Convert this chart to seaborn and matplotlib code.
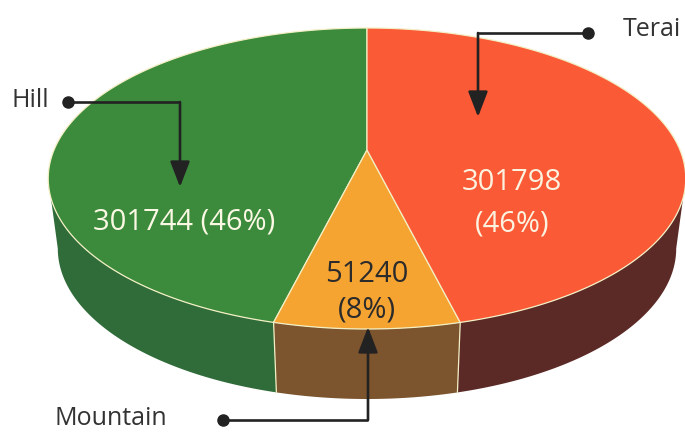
import numpy as np
import seaborn as sns
import matplotlib.pyplot as plt
from matplotlib.patches import Polygon

# data
regions = ["Hill", "Mountain", "Terai"]
counts = [301744, 51240, 301798]
top_colors = ["#3c8b3d", "#f6a431", "#fb5a37"]
side_colors = ["#2f6c39", "#7c552f", "#5b2a26"]
value_colors = ["#fbf8e4", "#2b2b2b", "#fbf3e0"]

sns.set_theme(style="white")
plt.rcParams["font.family"] = ["Open Sans", "DejaVu Sans"]

fig = plt.figure(figsize=(6.85, 4.32), dpi=100)
ax = fig.add_axes([0, 0, 1, 1])
ax.set_xlim(0, 685)
ax.set_ylim(432, 0)
ax.axis("off")

# perspective disc (pixel space)
x0, y0 = 367, 150
A, B, k = 313, 145.1, -0.1894
depth = 70
shrink = 0.97
edge = "#f3efc4"


def proj(t, dz=0.0, s=1.0):
    t = np.radians(t)
    u = np.cos(t)
    v = -np.sin(t)
    w = 1 + k * v
    return x0 + s * A * u / w, y0 + B * v / w + dz


total = sum(counts)
fracs = np.array(counts) / total
bounds = 90 + 360 * np.concatenate([[0], np.cumsum(fracs)])

# silhouette angles (leftmost / rightmost points of top ellipse)
grid = np.linspace(90, 450, 7201)
gx, _ = proj(grid)
t_left = grid[np.argmin(gx)]
t_right = grid[np.argmax(gx)]

# side faces
for i in range(len(counts)):
    a1 = max(bounds[i], t_left)
    a2 = min(bounds[i + 1], t_right)
    if a2 <= a1:
        continue
    ts = np.linspace(a1, a2, 200)
    tx, ty = proj(ts)
    bx, by = proj(ts, depth, shrink)
    pts = np.column_stack([np.concatenate([tx, bx[::-1]]),
                           np.concatenate([ty, by[::-1]])])
    ax.add_patch(Polygon(pts, closed=True, facecolor=side_colors[i],
                         edgecolor="none", zorder=1))

# light seams on the side between wedges
for b in bounds[1:-1]:
    if t_left < b < t_right:
        xa, ya = proj(b)
        xb, yb = proj(b, depth, shrink)
        ax.plot([xa, xb], [ya, yb], color=edge, lw=0.9, zorder=2)

# top faces
for i in range(len(counts)):
    ts = np.linspace(bounds[i], bounds[i + 1], 300)
    tx, ty = proj(ts)
    pts = np.column_stack([np.concatenate([[x0], tx]),
                           np.concatenate([[y0], ty])])
    ax.add_patch(Polygon(pts, closed=True, facecolor=top_colors[i],
                         edgecolor=edge, lw=0.9, zorder=3))

# value labels
pcts = [int(round(f * 100)) for f in fracs]
val_lines = [
    [(f"{counts[0]} ({pcts[0]}%)", 184, 230)],
    [(f"{counts[1]}", 367, 282), (f"({pcts[1]}%)", 367, 318)],
    [(f"{counts[2]}", 512, 190), (f"({pcts[2]}%)", 512, 231)],
]
for i, lines in enumerate(val_lines):
    for txt, x, y in lines:
        ax.text(x, y, txt, ha="center", va="baseline", fontsize=21,
                color=value_colors[i], zorder=5)

# callouts: name label, dot, elbow, arrow tip
callouts = [
    ("Hill", (12, 107), (68, 102), (180, 102), (180, 187)),
    ("Mountain", (55, 425), (223, 420), (368, 420), (368, 327)),
    ("Terai", (623, 36), (588, 33), (478, 33), (478, 117)),
]
lc = "#222222"
for name, tpos, dot, corner, tip in callouts:
    ax.text(tpos[0], tpos[1], name, ha="left", va="baseline", fontsize=18,
            color="#333333", zorder=6)
    ax.plot([dot[0], corner[0]], [dot[1], corner[1]], color=lc, lw=1.9,
            solid_capstyle="butt", zorder=6)
    ax.plot(dot[0], dot[1], "o", color=lc, ms=8, zorder=7)
    ax.annotate("", xy=tip, xytext=corner,
                arrowprops=dict(arrowstyle="-|>,head_length=1.3,head_width=0.5",
                                color=lc, lw=1.9, shrinkA=0, shrinkB=0),
                zorder=7)

fig.savefig("out.png", dpi=100)
